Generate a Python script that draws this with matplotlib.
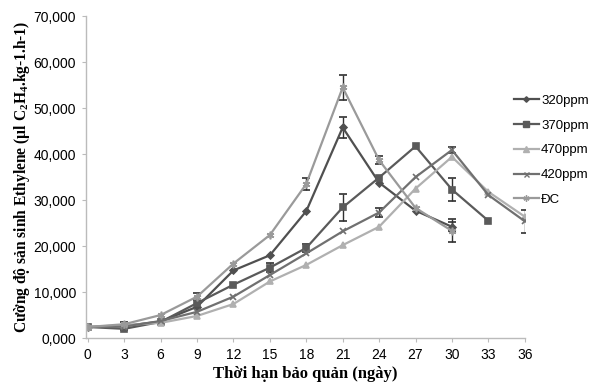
""" import """
import numpy as np
import matplotlib.pyplot as plt
from matplotlib.lines import Line2D
from matplotlib.ticker import FuncFormatter

""" data """
days = [0, 3, 6, 9, 12, 15, 18, 21, 24, 27, 30, 33, 36]
labels = ['320ppm', '370ppm', '470ppm', '420ppm', 'ĐC']

nan = np.nan
ppm320 = [2400, 2600, 3600, 6800, 14700, 18000, 27600, 45800, 33800, 27700, 24200, nan, nan]
ppm370 = [2400, 2000, 3500, 7600, 11600, 15300, 19600, 28400, 34900, 41700, 32300, 25500, nan]
ppm470 = [2400, 2800, 3300, 4800, 7400, 12300, 15900, 20200, 24200, 32500, 39400, 31800, 26400]
ppm420 = [2400, 2500, 3700, 5700, 9000, 13700, 18400, 23200, 27300, 35000, 40900, 31100, 25400]
dc = [2400, 3000, 5000, 9000, 16200, 22400, 33500, 54500, 38700, 28300, 23300, nan, nan]

err320 = [0, 800, 0, 0, 0, 0, 0, 2200, 0, 0, 1000, 0, 0]
err370 = [0, 0, 0, 0, 0, 1000, 900, 3000, 0, 0, 2500, 0, 0]
err470 = [0, 0, 0, 0, 0, 0, 0, 0, 0, 0, 0, 0, 0]
err420 = [0, 0, 0, 0, 0, 0, 0, 0, 1000, 0, 700, 0, 2500]
errdc = [0, 0, 0, 700, 0, 0, 1200, 2800, 900, 0, 2500, 0, 0]

series = [ppm320, ppm370, ppm470, ppm420, dc]
errors = [err320, err370, err470, err420, errdc]
colors = ['#505050', '#5a5a5a', '#b0b0b0', '#707070', '#9a9a9a']
markers = ['D', 's', '^', 'x', (6, 2, 0)]
msizes = [3.5, 5, 5, 4.5, 5.5]

""" plot """
plt.rcParams['font.family'] = ['Liberation Sans', 'DejaVu Sans']
plt.rcParams['mathtext.default'] = 'regular'

fig = plt.figure(figsize=(5.97, 3.85), dpi=100)
ax = fig.add_axes([0.144, 0.122, 0.735, 0.836])

handles = []
for y, e, c, m, ms, lab in zip(series, errors, colors, markers, msizes, labels):
    y = np.array(y, dtype=float)
    e = np.array(e, dtype=float)
    ax.errorbar(days, y, yerr=np.where(e > 0, e, np.nan), color=c, ecolor='#303030',
                elinewidth=1, capsize=3, capthick=1, marker=m, markersize=ms,
                markeredgewidth=1.2, linewidth=1.6)
    handles.append(Line2D([], [], color=c, marker=m, markersize=ms * 0.8,
                          markeredgewidth=1, linewidth=1.6, label=lab))

ax.set_xlim(-0.15, 36)
ax.set_ylim(0, 70000)
ax.set_xticks(days)
ax.set_yticks(np.arange(0, 70001, 10000))
ax.yaxis.set_major_formatter(FuncFormatter(lambda v, p: '{:.0f},000'.format(v / 1000)))
ax.tick_params(labelsize=10, length=3, color='#bbbbbb', pad=4)

for s in ['top', 'right']:
    ax.spines[s].set_visible(False)
for s in ['left', 'bottom']:
    ax.spines[s].set_color('#bbbbbb')
    ax.spines[s].set_linewidth(1)

ax.set_xlabel('Thời hạn bảo quản (ngày)', family='Liberation Serif', fontweight='bold',
              fontsize=12, labelpad=3)
ax.set_ylabel('Cường độ sản sinh Ethylene (µl C$_2$H$_4$.kg-1.h-1)', family='Liberation Serif',
              fontweight='bold', fontsize=11.2, labelpad=1)

fig.legend(handles=handles, loc='upper left', bbox_to_anchor=(0.852, 0.768), frameon=False,
           fontsize=9.5, handlelength=1.9, handletextpad=0.15, labelspacing=0.95,
           borderaxespad=0)

fig.savefig('out.png', dpi=100)
